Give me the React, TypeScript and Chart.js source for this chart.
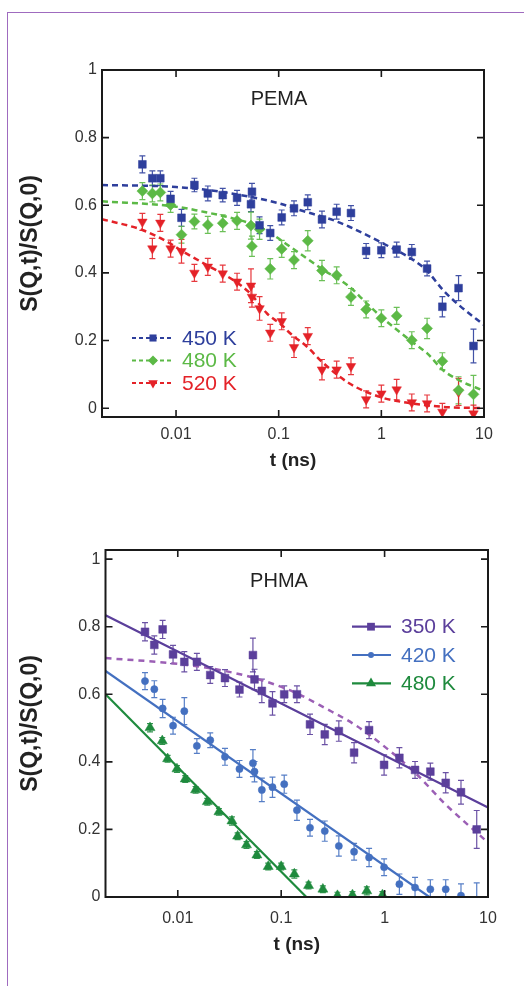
import React, { useEffect, useRef } from 'react';
import { Chart, registerables } from 'chart.js';

Chart.register(...registerables);

const FONT = "'Liberation Sans', Arial, Helvetica, sans-serif";

// ---------- shared ticks ----------
const X_TICKS = [0.01, 0.1, 1, 10];
const Y_TICKS = [0, 0.2, 0.4, 0.6, 0.8, 1];

// ---------- PEMA (top) ----------
const tTop = [0.0047, 0.00588, 0.00703, 0.00885, 0.0113, 0.0151, 0.0204, 0.0285, 0.0393, 0.0537, 0.0549, 0.0651, 0.0827, 0.107, 0.141, 0.192, 0.264, 0.367, 0.506, 0.711, 1.0, 1.41, 1.98, 2.79, 3.93, 5.65, 7.9];
const pema450 = [0.721, 0.680, 0.680, 0.619, 0.563, 0.660, 0.635, 0.630, 0.622, 0.603, 0.640, 0.541, 0.518, 0.564, 0.591, 0.609, 0.558, 0.581, 0.577, 0.465, 0.467, 0.469, 0.462, 0.413, 0.300, 0.355, 0.184];
const pema450Err = [0.025, 0.022, 0.022, 0.022, 0.025, 0.02, 0.022, 0.02, 0.022, 0.022, 0.025, 0.025, 0.022, 0.022, 0.022, 0.022, 0.025, 0.022, 0.022, 0.022, 0.022, 0.022, 0.022, 0.022, 0.03, 0.037, 0.05];
const pema480 = [0.642, 0.635, 0.638, 0.601, 0.513, 0.552, 0.542, 0.547, 0.554, 0.540, 0.479, 0.529, 0.412, 0.471, 0.438, 0.495, 0.407, 0.393, 0.329, 0.292, 0.266, 0.273, 0.201, 0.236, 0.139, 0.053, 0.041];
const pema480Err = [0.025, 0.025, 0.025, 0.022, 0.025, 0.022, 0.025, 0.025, 0.025, 0.04, 0.03, 0.03, 0.03, 0.025, 0.025, 0.03, 0.03, 0.025, 0.025, 0.025, 0.025, 0.025, 0.025, 0.03, 0.025, 0.04, 0.056];
const pema520 = [0.551, 0.472, 0.548, 0.472, 0.464, 0.400, 0.418, 0.398, 0.374, 0.362, 0.329, 0.295, 0.223, 0.257, 0.180, 0.213, 0.114, 0.114, 0.124, 0.026, 0.043, 0.055, 0.017, 0.014, -0.011, 0.048, -0.016];
const pema520Err = [0.025, 0.03, 0.025, 0.025, 0.035, 0.025, 0.025, 0.025, 0.025, 0.05, 0.03, 0.035, 0.025, 0.025, 0.03, 0.025, 0.03, 0.025, 0.025, 0.025, 0.025, 0.03, 0.025, 0.025, 0.025, 0.04, 0.025];

const fit450T = [0.0019, 0.01, 0.03, 0.1, 0.16, 0.34, 0.5, 1, 2, 2.75, 4, 5.7, 10];
const fit450Y = [0.660, 0.654, 0.638, 0.606, 0.586, 0.556, 0.535, 0.490, 0.440, 0.408, 0.349, 0.305, 0.246];
const fit480T = [0.0019, 0.01, 0.017, 0.036, 0.066, 0.145, 0.26, 0.49, 0.72, 1.0, 2.0, 2.8, 4.0, 5.7, 10];
const fit480Y = [0.612, 0.596, 0.583, 0.561, 0.535, 0.467, 0.413, 0.359, 0.310, 0.270, 0.196, 0.162, 0.112, 0.083, 0.051];
const fit520T = [0.0019, 0.0047, 0.0082, 0.0119, 0.020, 0.036, 0.053, 0.077, 0.107, 0.13, 0.19, 0.264, 0.49, 1.0, 2.0, 4.0, 10];
const fit520Y = [0.559, 0.527, 0.492, 0.462, 0.423, 0.379, 0.339, 0.280, 0.246, 0.221, 0.181, 0.137, 0.073, 0.032, 0.014, 0.004, 0.0];

// ---------- PHMA (bottom) ----------
const tBot = [0.00482, 0.00593, 0.00714, 0.0090, 0.01157, 0.0153, 0.0206, 0.0286, 0.0395, 0.0533, 0.0552, 0.0650, 0.0824, 0.107, 0.142, 0.190, 0.264, 0.361, 0.507, 0.708, 0.989, 1.39, 1.97, 2.77, 3.90, 5.48, 7.78];
const phma350 = [0.785, 0.746, 0.792, 0.718, 0.696, 0.696, 0.657, 0.648, 0.614, 0.716, 0.644, 0.610, 0.573, 0.600, 0.600, 0.511, 0.481, 0.491, 0.427, 0.494, 0.391, 0.412, 0.376, 0.371, 0.338, 0.310, 0.200];
const phma350Err = [0.027, 0.027, 0.027, 0.027, 0.03, 0.025, 0.025, 0.025, 0.022, 0.05, 0.03, 0.035, 0.035, 0.025, 0.025, 0.03, 0.03, 0.03, 0.03, 0.025, 0.03, 0.03, 0.025, 0.025, 0.03, 0.035, 0.056];
const phma420 = [0.639, 0.615, 0.558, 0.507, 0.550, 0.447, 0.464, 0.415, 0.379, 0.396, 0.371, 0.317, 0.325, 0.334, 0.257, 0.205, 0.195, 0.151, 0.134, 0.117, 0.088, 0.038, 0.028, 0.023, 0.023, 0.004, -0.01];
const phma420Err = [0.025, 0.025, 0.027, 0.025, 0.04, 0.022, 0.022, 0.025, 0.025, 0.04, 0.03, 0.035, 0.03, 0.027, 0.03, 0.025, 0.03, 0.03, 0.025, 0.027, 0.025, 0.03, 0.03, 0.028, 0.028, 0.035, 0.052];
const tBot480 = [0.00539, 0.00708, 0.00797, 0.00982, 0.0118, 0.01486, 0.0193, 0.0250, 0.0334, 0.0379, 0.0462, 0.0582, 0.0749, 0.100, 0.134, 0.184, 0.253, 0.350, 0.489, 0.673, 0.953];
const phma480 = [0.501, 0.462, 0.409, 0.379, 0.349, 0.317, 0.282, 0.252, 0.225, 0.180, 0.154, 0.124, 0.090, 0.090, 0.068, 0.034, 0.023, 0.004, 0.006, 0.018, 0.006];
const phma480Err = [0.012, 0.01, 0.01, 0.01, 0.01, 0.01, 0.01, 0.01, 0.012, 0.01, 0.01, 0.01, 0.01, 0.01, 0.012, 0.01, 0.01, 0.01, 0.01, 0.012, 0.01];

const line350T = [0.002, 10];
const line350Y = [0.834, 0.265];
const line420T = [0.002, 2.71];
const line420Y = [0.669, 0.0];
const line480T = [0.002, 0.175];
const line480Y = [0.600, 0.0];
const dash350T = [0.002, 0.0086, 0.0225, 0.055, 0.13, 0.27, 0.52, 1.0, 2.0, 3.8, 10];
const dash350Y = [0.707, 0.692, 0.675, 0.648, 0.608, 0.558, 0.509, 0.445, 0.366, 0.277, 0.161];

// ---------- colours ----------
const C450 = '#2e3f9c';
const C480 = '#5cb946';
const C520 = '#e42228';
const C350 = '#5b3f9b';
const C350D = '#9b5fb5';
const C420 = '#4470c0';
const C480B = '#1e8a3d';

const zip = (xs: number[], ys: number[]) => xs.map((x, i) => ({ x, y: ys[i] }));

function drawMarker(ctx: CanvasRenderingContext2D, style: string, x: number, y: number, r: number, color: string) {
  ctx.save();
  ctx.fillStyle = color;
  ctx.beginPath();
  if (style === 'rect') {
    const s = r * Math.SQRT1_2;
    ctx.rect(x - s, y - s, 2 * s, 2 * s);
  } else if (style === 'rectRot') {
    ctx.moveTo(x, y - r); ctx.lineTo(x + r, y); ctx.lineTo(x, y + r); ctx.lineTo(x - r, y); ctx.closePath();
  } else if (style === 'triDown') {
    const h = r * 0.5, w = r * 0.866;
    ctx.moveTo(x, y + r); ctx.lineTo(x + w, y - h); ctx.lineTo(x - w, y - h); ctx.closePath();
  } else if (style === 'triangle') {
    const h = r * 0.5, w = r * 0.866;
    ctx.moveTo(x, y - r); ctx.lineTo(x + w, y + h); ctx.lineTo(x - w, y + h); ctx.closePath();
  } else {
    ctx.arc(x, y, r, 0, Math.PI * 2);
  }
  ctx.fill();
  ctx.restore();
}

const errorBarPlugin = {
  id: 'errorBars',
  beforeDatasetsDraw(chart: any) {
    const { ctx, chartArea: a } = chart;
    const xs = chart.scales.x, ys = chart.scales.y;
    ctx.save();
    ctx.beginPath();
    ctx.rect(a.left, a.top, a.right - a.left, a.bottom - a.top);
    ctx.clip();
    chart.data.datasets.forEach((ds: any) => {
      if (!ds.errors) return;
      ctx.strokeStyle = ds.errorColor;
      ctx.globalAlpha = 0.9;
      ctx.lineWidth = 1.2;
      ds.data.forEach((p: any, j: number) => {
        const e = ds.errors[j];
        const x = xs.getPixelForValue(p.x);
        const y1 = ys.getPixelForValue(p.y + e);
        const y2 = ys.getPixelForValue(p.y - e);
        ctx.beginPath();
        ctx.moveTo(x, y1); ctx.lineTo(x, y2);
        ctx.moveTo(x - 3, y1); ctx.lineTo(x + 3, y1);
        ctx.moveTo(x - 3, y2); ctx.lineTo(x + 3, y2);
        ctx.stroke();
      });
    });
    ctx.restore();
  },
};

const framePlugin = {
  id: 'frame',
  afterDraw(chart: any) {
    const { ctx, chartArea: a } = chart;
    const xs = chart.scales.x, ys = chart.scales.y;
    ctx.save();
    ctx.strokeStyle = '#1a1a1a';
    ctx.lineWidth = 2;
    ctx.strokeRect(a.left, a.top, a.right - a.left, a.bottom - a.top);
    ctx.lineWidth = 1.6;
    ctx.beginPath();
    xs.ticks.forEach((t: any) => {
      const px = xs.getPixelForValue(t.value);
      ctx.moveTo(px, a.bottom); ctx.lineTo(px, a.bottom - 7);
      ctx.moveTo(px, a.top); ctx.lineTo(px, a.top + 7);
    });
    ys.ticks.forEach((t: any) => {
      const py = ys.getPixelForValue(t.value);
      ctx.moveTo(a.left, py); ctx.lineTo(a.left + 7, py);
      ctx.moveTo(a.right, py); ctx.lineTo(a.right - 7, py);
    });
    ctx.stroke();
    ctx.restore();
  },
};

type LegendItem = { label: string; color: string; marker: string; r: number };
function makeLegendPlugin(items: LegendItem[], g: { x1: number; x2: number; mx: number; tx: number; rows: number[]; dash: number[] }, panel: { text: string; x: number; y: number }) {
  return {
    id: 'seriesLegend',
    afterDraw(chart: any) {
      const ctx = chart.ctx as CanvasRenderingContext2D;
      ctx.save();
      items.forEach((it, i) => {
        const y = g.rows[i];
        ctx.strokeStyle = it.color;
        ctx.lineWidth = 2.2;
        ctx.setLineDash(g.dash);
        ctx.beginPath();
        ctx.moveTo(g.x1, y); ctx.lineTo(g.x2, y);
        ctx.stroke();
        ctx.setLineDash([]);
        drawMarker(ctx, it.marker, g.mx, y, it.r, it.color);
        ctx.fillStyle = it.color;
        ctx.font = `21px ${FONT}`;
        ctx.textAlign = 'left';
        ctx.textBaseline = 'middle';
        ctx.fillText(it.label, g.tx, y + 1);
      });
      ctx.fillStyle = '#222';
      ctx.font = `20px ${FONT}`;
      ctx.textAlign = 'center';
      ctx.textBaseline = 'middle';
      ctx.fillText(panel.text, panel.x, panel.y);
      ctx.restore();
    },
  };
}

function pointsDs(data: any[], errors: number[], color: string, style: string, r: number, rotation = 0) {
  return {
    data, errors, errorColor: color,
    showLine: false,
    pointStyle: style, pointRadius: r, pointRotation: rotation,
    pointBackgroundColor: color, pointBorderColor: color, pointBorderWidth: 0.5,
    backgroundColor: color, borderColor: color,
  };
}
function lineDs(data: any[], color: string, dash: number[], width: number) {
  return {
    data, showLine: true, pointRadius: 0, borderColor: color, borderWidth: width,
    borderDash: dash, cubicInterpolationMode: 'monotone', fill: false,
  };
}

function makeOptions(p: { xMin: number; xMax: number; yMin: number; yMax: number; padTop: number; padRight: number; padBottom: number; yWidth: number; tickPad: number; titlePad: number }) {
  return {
    responsive: false,
    animation: false,
    events: [],
    layout: { padding: { top: p.padTop, right: p.padRight, bottom: p.padBottom, left: 0 } },
    plugins: { legend: { display: false }, tooltip: { enabled: false } },
    scales: {
      x: {
        type: 'logarithmic', min: p.xMin, max: p.xMax,
        afterBuildTicks: (s: any) => { s.ticks = X_TICKS.map((v) => ({ value: v })); },
        afterFit: (s: any) => { s.height = 60; },
        grid: { display: false, drawTicks: false },
        border: { display: false },
        ticks: { autoSkip: false, maxRotation: 0, minRotation: 0, padding: p.tickPad, color: '#333', font: { family: FONT, size: 16 }, callback: (v: any) => String(v) },
        title: { display: true, text: 't (ns)', color: '#222', font: { family: FONT, size: 19, weight: 'bold' }, padding: { top: 0, bottom: p.titlePad } },
      },
      y: {
        type: 'linear', min: p.yMin, max: p.yMax,
        afterBuildTicks: (s: any) => { s.ticks = Y_TICKS.map((v) => ({ value: v })); },
        afterFit: (s: any) => { s.width = p.yWidth; },
        grid: { display: false, drawTicks: false },
        border: { display: false },
        ticks: { padding: 5, color: '#333', font: { family: FONT, size: 16 }, callback: (v: any) => (v === 0 ? '0' : v === 1 ? '1' : Number(v).toFixed(1)) },
        title: { display: true, text: 'S(Q,t)/S(Q,0)', color: '#222', font: { family: FONT, size: 23, weight: 'bold' }, padding: { top: 17, bottom: 0 } },
      },
    },
  };
}

function topConfig(): any {
  return {
    type: 'scatter',
    data: {
      datasets: [
        pointsDs(zip(tTop, pema450), pema450Err, C450, 'rect', 5.5),
        pointsDs(zip(tTop, pema480), pema480Err, C480, 'rectRot', 5.5),
        pointsDs(zip(tTop, pema520), pema520Err, C520, 'triangle', 5.5, 180),
        lineDs(zip(fit450T, fit450Y), C450, [6, 4], 2.5),
        lineDs(zip(fit480T, fit480Y), C480, [6, 4], 2.5),
        lineDs(zip(fit520T, fit520Y), C520, [6, 4], 2.5),
      ],
    },
    options: makeOptions({ xMin: 0.0019, xMax: 10, yMin: -0.026, yMax: 1, padTop: 70, padRight: 40, padBottom: 16, yWidth: 102, tickPad: 8, titlePad: 5 }),
    plugins: [
      errorBarPlugin,
      framePlugin,
      makeLegendPlugin(
        [
          { label: '450 K', color: C450, marker: 'rect', r: 5 },
          { label: '480 K', color: C480, marker: 'rectRot', r: 5 },
          { label: '520 K', color: C520, marker: 'triDown', r: 5.5 },
        ],
        { x1: 132, x2: 174, mx: 153, tx: 182, rows: [338, 360.5, 383], dash: [4, 3] },
        { text: 'PEMA', x: 279, y: 99 },
      ),
    ],
  };
}

function bottomConfig(): any {
  return {
    type: 'scatter',
    data: {
      datasets: [
        pointsDs(zip(tBot, phma350), phma350Err, C350, 'rect', 5.5),
        pointsDs(zip(tBot, phma420), phma420Err, C420, 'circle', 3.6),
        pointsDs(zip(tBot480, phma480), phma480Err, C480B, 'triangle', 5.8),
        lineDs(zip(line350T, line350Y), C350, [], 2.2),
        lineDs(zip(line420T, line420Y), C420, [], 2.2),
        lineDs(zip(line480T, line480Y), C480B, [], 2.2),
        lineDs(zip(dash350T, dash350Y), C350D, [6, 5], 2.5),
      ],
    },
    options: makeOptions({ xMin: 0.002, xMax: 10, yMin: 0, yMax: 1.027, padTop: 57, padRight: 36, padBottom: 29, yWidth: 105.5, tickPad: 12, titlePad: 1 }),
    plugins: [
      errorBarPlugin,
      framePlugin,
      makeLegendPlugin(
        [
          { label: '350 K', color: C350, marker: 'rect', r: 5.5 },
          { label: '420 K', color: C420, marker: 'circle', r: 3 },
          { label: '480 K', color: C480B, marker: 'triangle', r: 5.8 },
        ],
        { x1: 352, x2: 391, mx: 371, tx: 401, rows: [133.7, 162, 190.3], dash: [] },
        { text: 'PHMA', x: 279, y: 88 },
      ),
    ],
  };
}

function Panel({ make, top, height }: { make: () => any; top: number; height: number }) {
  const ref = useRef<HTMLCanvasElement>(null);
  useEffect(() => {
    const chart = new Chart(ref.current as HTMLCanvasElement, make());
    return () => chart.destroy();
  }, []);
  return (
    <canvas
      ref={ref}
      width={524}
      height={height}
      style={{ position: 'absolute', left: 0, top, width: 524, height, display: 'block' }}
    />
  );
}

export default function App() {
  return (
    <div style={{ position: 'absolute', left: 0, top: 0, width: 524, height: 986, overflow: 'hidden', background: '#fff' }}>
      <div
        style={{
          position: 'absolute', left: 7, top: 12, width: 517, height: 974, boxSizing: 'border-box',
          borderLeft: '1px solid #9f6bbf', borderTop: '1px solid #9f6bbf',
        }}
      />
      <Panel make={topConfig} top={0} height={493} />
      <Panel make={bottomConfig} top={493} height={493} />
    </div>
  );
}
